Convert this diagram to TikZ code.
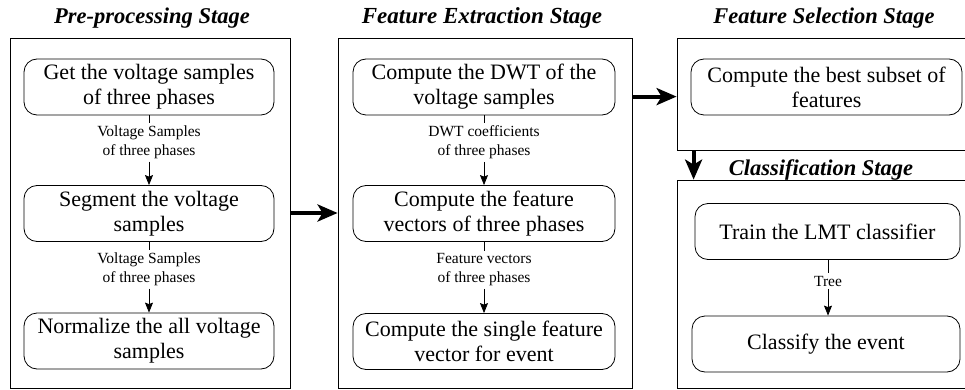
\documentclass[tikz,border=0pt]{standalone}
\usepackage{fontspec}
\setmainfont{Liberation Serif}
\usetikzlibrary{arrows.meta,calc}
\begin{document}
\begin{tikzpicture}[x=1pt,y=-1pt,
  stage/.style={draw,line width=0.8pt,minimum width=#1,inner sep=0pt},
  title/.style={font=\fontsize{22.5}{26}\selectfont\bfseries\itshape,inner sep=0pt},
  step box/.style={draw,line width=0.8pt,rounded corners=13pt,minimum width=#1,minimum height=56pt,
    align=center,inner sep=0pt,font=\fontsize{22}{25}\selectfont},
  lab/.style={font=\fontsize{15.5}{19}\selectfont,align=center,inner sep=2.5pt},
  conn/.style={line width=0.8pt},
  thin arrow/.style={line width=0.8pt,-{Stealth[length=10pt,width=8pt,inset=1.5pt]}},
  big arrow/.style={line width=4pt,-{Stealth[length=20pt,width=17pt,inset=5pt]}}]
\useasboundingbox (0,0) rectangle (965,390);
% titles
\node[title] (t1) at (152,18) {Pre-processing Stage};
\node[title,font=\fontsize{23}{26}\selectfont\bfseries\itshape] (t2) at (482,18) {Feature Extraction Stage};
\node[title] (t3) at (824,18) {Feature Selection Stage};
\node[title] (t4) at (821,170) {Classification Stage};
% stage frames
\node[stage=280pt,minimum height=350pt] (s1) at (150,213) {};
\node[stage=294pt,minimum height=350pt] (s2) at (485,213) {};
\node[stage=300pt,minimum height=112pt] (s3) at (827,94) {};
\node[stage=300pt,minimum height=208pt] (s4) at (827,284) {};
% pre-processing
\node[step box=250pt] (b11) at (149,87) {Get the voltage samples\\of three phases};
\node[step box=250pt] (b12) at (149,213.5) {Segment the voltage\\samples};
\node[step box=250pt] (b13) at (149,341) {Normalize the all voltage\\samples};
\node[lab] (l11) at (149,142.5) {Voltage Samples\\of three phases};
\node[lab] (l12) at (149,269.5) {Voltage Samples\\of three phases};
% feature extraction
\node[step box=262pt] (b21) at (484,87) {Compute the DWT of the\\voltage samples};
\node[step box=262pt] (b22) at (484,213.5) {Compute the feature\\vectors of three phases};
\node[step box=262pt] (b23) at (484,341.5) {Compute the single feature\\vector for event};
\node[lab] (l21) at (484,142.5) {DWT coefficients\\of three phases};
\node[lab] (l22) at (484,270) {Feature vectors\\of three phases};
% feature selection
\node[step box=271pt] (b31) at (826.5,87) {Compute the best subset of\\features};
% classification
\node[step box=265pt] (b41) at (827.5,231.5) {Train the LMT classifier};
\node[step box=268pt] (b42) at (826,344) {Classify the event};
\node[lab] (l41) at (828,281) {Tree};
% connectors
\draw[conn] (b11.south) -- (l11.north);
\draw[thin arrow] (l11.south) -- (b12.north);
\draw[conn] (b12.south) -- (l12.north);
\draw[thin arrow] (l12.south) -- (b13.north);
\draw[conn] (b21.south) -- (l21.north);
\draw[thin arrow] (l21.south) -- (b22.north);
\draw[conn] (b22.south) -- (l22.north);
\draw[thin arrow] (l22.south) -- (b23.north);
\draw[conn] (b41.south -| l41.north) -- (l41.north);
\draw[thin arrow] (l41.south) -- (l41.south |- b42.north);
% stage arrows
\draw[big arrow] (s1.east) -- (s2.west);
\coordinate (a2) at ($(s2.north east)+(0,59)$);
\draw[big arrow] (a2) -- (a2 -| s3.west);
\coordinate (a3) at ($(s3.south west)+(17,0)$);
\draw[big arrow] (a3) -- (a3 |- s4.north);
\end{tikzpicture}
\end{document}
